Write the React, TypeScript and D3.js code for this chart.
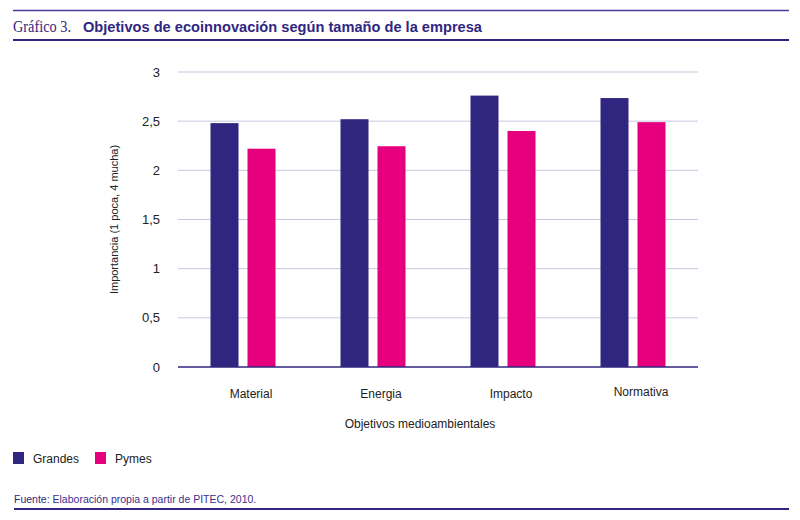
import React from "react";
import * as d3 from "d3";

const categories = ["Material", "Energia", "Impacto", "Normativa"];
const seriesNames = ["Grandes", "Pymes"];
const grandes = [2.48, 2.52, 2.76, 2.735];
const pymes = [2.22, 2.245, 2.4, 2.49];
const yTicks = [0, 0.5, 1, 1.5, 2, 2.5, 3];
const tickLabels = ["0", "0,5", "1", "1,5", "2", "2,5", "3"];
const colors = ["#30267f", "#e6007e"];

const W = 800;
const H = 520;
const plotLeft = 178;
const plotRight = 698;
const plotTop = 72;
const plotBottom = 367;

export default function App() {
  const x = d3.scaleBand<string>().domain(categories).range([plotLeft, plotRight]).paddingInner(0).paddingOuter(0);
  const y = d3.scaleLinear().domain([0, 3]).range([plotBottom, plotTop]);
  const barW = 28;
  const gap = 9;
  const series = [grandes, pymes];
  const font = "'Liberation Sans', Arial, sans-serif";
  return (
    <div style={{ margin: -8 }}>
      <svg width={W} height={H} style={{ display: "block", background: "#fff" }}>
        <line x1={13} x2={789} y1={10.5} y2={10.5} stroke="#4b3f94" strokeWidth={1.6} />
        <text x={13} y={32} fontFamily="'Liberation Serif', 'DejaVu Serif', serif" fontSize={16} fill="#30267f" textLength={58} lengthAdjust="spacingAndGlyphs">
          Gráfico 3.
        </text>
        <text x={83} y={32} fontFamily="'Liberation Sans', Arial, sans-serif" fontWeight={700} fontSize={15} fill="#30267f" textLength={399} lengthAdjust="spacingAndGlyphs">
          Objetivos de ecoinnovación según tamaño de la empresa
        </text>
        <line x1={13} x2={789} y1={40} y2={40} stroke="#30267f" strokeWidth={2.2} />

        {yTicks.map((t, i) => (
          <g key={i}>
            {t > 0 && (
              <line x1={plotLeft} x2={plotRight} y1={y(t)} y2={y(t)} stroke="#cac5de" strokeWidth={1} />
            )}
            <text x={160} y={y(t) + 4.5} textAnchor="end" fontFamily={font} fontSize={13} fill="#222">
              {tickLabels[i]}
            </text>
          </g>
        ))}

        {categories.map((c, ci) => {
          const cx = (x(c) as number) + x.bandwidth() / 2;
          return (
            <g key={c}>
              {series.map((s, si) => {
                const bx = si === 0 ? cx - gap / 2 - barW : cx + gap / 2;
                return (
                  <rect key={si} x={bx} y={y(s[ci])} width={barW} height={plotBottom - y(s[ci])} fill={colors[si]} />
                );
              })}
              <text x={cx + 8} y={ci === 3 ? 396 : 398} textAnchor="middle" fontFamily={font} fontSize={12} fill="#222">
                {c}
              </text>
            </g>
          );
        })}
        <line x1={plotLeft} x2={plotRight} y1={plotBottom} y2={plotBottom} stroke="#30267f" strokeWidth={1.3} />

        <text x={420} y={428} textAnchor="middle" fontFamily={font} fontSize={12} fill="#222">
          Objetivos medioambientales
        </text>
        <text
          transform={`translate(118, ${(plotTop + plotBottom) / 2}) rotate(-90)`}
          textAnchor="middle"
          fontFamily={font}
          fontSize={11}
          fill="#222"
        >
          Importancia (1 poca, 4 mucha)
        </text>

        {seriesNames.map((n, i) => (
          <g key={n} transform={`translate(${13 + i * 82}, 452)`}>
            <rect x={0} y={0} width={11} height={12} fill={colors[i]} />
            <text x={20} y={11} fontFamily={font} fontSize={12} fill="#222">
              {n}
            </text>
          </g>
        ))}

        <text x={14} y={503} fontFamily={font} fontSize={10.5} fill="#3a2f8a">
          <tspan fill="#30267f">Fuente:</tspan>
          <tspan> Elaboración propia a partir de PITEC, 2010.</tspan>
        </text>
        <line x1={14} x2={789} y1={509} y2={509} stroke="#30267f" strokeWidth={2} />
      </svg>
    </div>
  );
}
